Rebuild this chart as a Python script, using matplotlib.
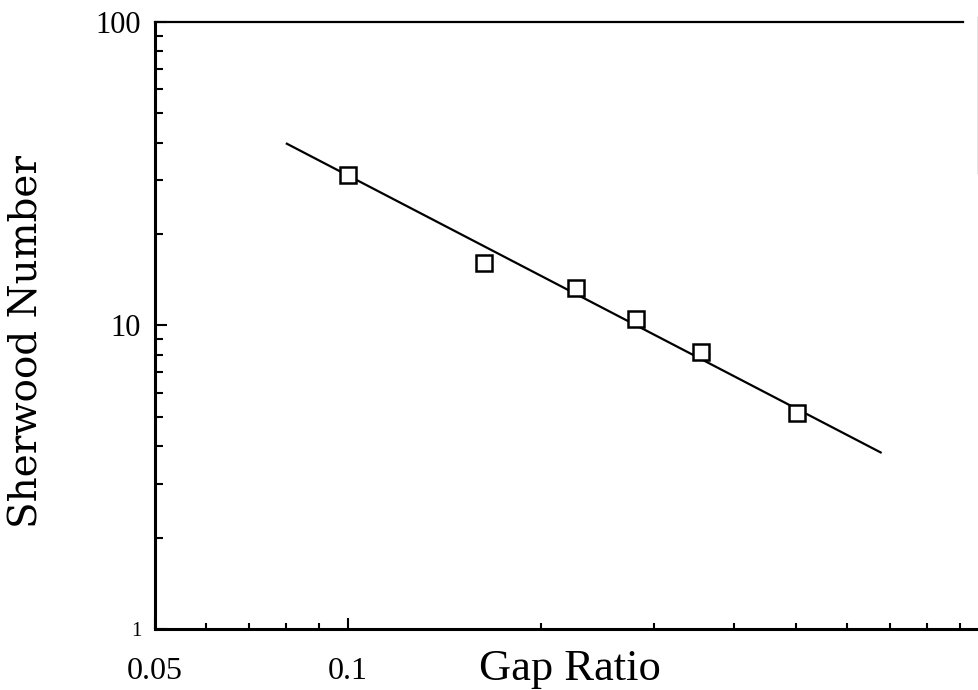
import matplotlib
matplotlib.use("Agg")
import matplotlib.pyplot as plt
from matplotlib.lines import Line2D
from matplotlib.ticker import FixedLocator, NullFormatter, FixedFormatter

gap_ratio = [0.100, 0.163, 0.227, 0.281, 0.355, 0.501]
sherwood = [31.3, 16.1, 13.3, 10.5, 8.15, 5.14]

# correlation line end points
fit_gap = [0.080, 0.680]
fit_sh = [39.8, 3.80]

x_major = [0.05, 0.1]
x_major_labels = ["0.05", "0.1"]
x_minor = [0.06, 0.07, 0.08, 0.09, 0.2, 0.3, 0.4, 0.5, 0.6, 0.7, 0.8, 0.9]
y_major = [1, 10, 100]
y_major_labels = ["1", "10", "100"]
y_minor = [2, 3, 4, 5, 6, 7, 8, 9, 20, 30, 40, 50, 60, 70, 80, 90]

plt.rcParams["font.family"] = ["Liberation Serif", "DejaVu Serif"]

W, H = 979, 690
fig = plt.figure(figsize=(W / 100, H / 100), dpi=100)
fig.patch.set_facecolor("white")

# axes box runs past the right edge of the figure (x = 1 sits just outside)
left, right, top, bottom = 155, 989, 21.7, 629
ax = fig.add_axes([left / W, (H - bottom) / H, (right - left) / W, (bottom - top) / H])
ax.set_xscale("log")
ax.set_yscale("log")
ax.set_xlim(0.05, 1.0)
ax.set_ylim(1, 100)

ax.plot(fit_gap, fit_sh, color="black", lw=1.6, solid_capstyle="butt")
ax.plot(gap_ratio, sherwood, ls="none", marker="s", ms=11, mfc="white",
        mec="black", mew=1.8)

ax.xaxis.set_major_locator(FixedLocator(x_major))
ax.xaxis.set_major_formatter(FixedFormatter(x_major_labels))
ax.xaxis.set_minor_locator(FixedLocator(x_minor))
ax.xaxis.set_minor_formatter(NullFormatter())
ax.yaxis.set_major_locator(FixedLocator(y_major))
ax.yaxis.set_major_formatter(FixedFormatter(y_major_labels))
ax.yaxis.set_minor_locator(FixedLocator(y_minor))
ax.yaxis.set_minor_formatter(NullFormatter())

ax.tick_params(which="both", direction="in", top=False, right=False,
               width=1.5, color="black")
ax.tick_params(axis="x", which="major", length=8, pad=20, labelsize=23)
ax.tick_params(axis="x", which="minor", length=4.5)
ax.tick_params(axis="y", which="major", length=8.5, pad=10, labelsize=22)
ax.tick_params(axis="y", which="minor", length=5.5)

# the scanned "1" is printed noticeably smaller
for lab in ax.get_yticklabels():
    if lab.get_text() == "1":
        lab.set_fontsize(15)

for side in ("left", "bottom"):
    ax.spines[side].set_linewidth(2.2)
ax.spines["top"].set_linewidth(1.6)
ax.spines["top"].set_bounds(0.05, 0.91)
ax.spines["right"].set_visible(False)

fig.text(570 / W, (H - 680) / H, "Gap Ratio", ha="center", va="baseline",
         fontsize=32)
fig.text(27 / W, (H - 342) / H, "Sherwood Number", ha="center", va="center",
         rotation=90, fontsize=28, family=["DejaVu Serif"])

# edge of a neighbouring box that is cut off on the right of the scan
fig.add_artist(Line2D([978 / W, 978 / W], [(H - 17) / H, (H - 173) / H],
                      transform=fig.transFigure, color="#777777", lw=1.0))

fig.savefig("out.png", dpi=100)
